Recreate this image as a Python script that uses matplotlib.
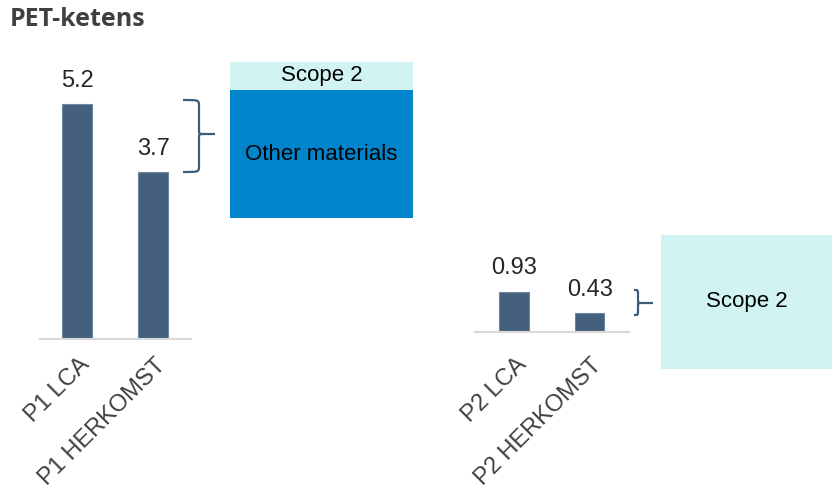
import matplotlib
matplotlib.use("Agg")
import matplotlib.pyplot as plt
from matplotlib.patches import Rectangle, PathPatch
from matplotlib.path import Path
from matplotlib.transforms import ScaledTranslation

plt.rcParams['font.family'] = ['Liberation Sans', 'DejaVu Sans']

# emissions per chain
p1_labels = ['P1 LCA', 'P1 HERKOMST']
p1_values = [5.2, 3.7]
p2_labels = ['P2 LCA', 'P2 HERKOMST']
p2_values = [0.93, 0.43]

W, H = 832, 491
BAR = '#44607d'
EDGE = '#6d86a2'
AXIS = '#d9d9d9'
BRACE = '#3d5c7c'
CYAN = '#d1f3f1'
BLUE = '#0085cc'

fig = plt.figure(figsize=(W / 100, H / 100), dpi=100)


def px_axes(x0, x1, ytop, ybase):
    # axes placed by pixel coords (origin top left)
    return fig.add_axes([x0 / W, (H - ybase) / H, (x1 - x0) / W, (ybase - ytop) / H])


def bar_panel(ax, labels, values, ymax, xlim, label_dy):
    xs = list(range(len(values)))
    ax.bar(xs, values, width=0.39, color=BAR, edgecolor=EDGE, linewidth=0.8)
    ax.set_xlim(*xlim)
    ax.set_ylim(0, ymax)
    for s in ['left', 'right', 'top']:
        ax.spines[s].set_visible(False)
    ax.spines['bottom'].set_color(AXIS)
    ax.spines['bottom'].set_linewidth(1.5)
    ax.set_xticks([])
    ax.set_yticks([])
    ax.patch.set_alpha(0)
    for x, v in zip(xs, values):
        ax.annotate(f'{v:g}', (x, v), xytext=(0, 12.5), textcoords='offset points',
                    ha='center', va='baseline', fontsize=17, color='#262626')
    for x, lab in zip(xs, labels):
        off = ScaledTranslation(1 / 100, -label_dy / 100, fig.dpi_scale_trans)
        ax.text(x, 0, lab, transform=ax.transData + off, rotation=45,
                rotation_mode='anchor', ha='right', va='top',
                fontsize=17, color='#404040')


ax1 = px_axes(40, 191, 68, 339)
bar_panel(ax1, p1_labels, p1_values, 6.0, (-0.49, 1.5), 15)

ax2 = px_axes(475, 629, 280, 332)
bar_panel(ax2, p2_labels, p2_values, 1.2, (-0.515, 1.52), 22)


def box(x0, y0, x1, y1, color, text):
    fig.patches.append(Rectangle((x0 / W, 1 - y1 / H), (x1 - x0) / W, (y1 - y0) / H,
                                 transform=fig.transFigure, facecolor=color,
                                 edgecolor='none'))
    fig.text((x0 + x1) / 2 / W, 1 - (y0 + y1) / 2 / H, text, ha='center',
             va='center', fontsize=16, color='black')


def brace(x0, xv, xt, y0, ym, y1, r):
    # right-facing curly brace with a short stem at the tip
    pts = [(x0, y0), (xv, y0), (xv, y0), (xv, y0 + r),
           (xv, ym - r), (xv, ym), (xv, ym), (xv + r * 0.6, ym),
           (xt, ym),
           (xv + r * 0.6, ym), (xv, ym), (xv, ym), (xv, ym + r),
           (xv, y1 - r), (xv, y1), (xv, y1), (x0, y1)]
    codes = [Path.MOVETO, Path.CURVE4, Path.CURVE4, Path.CURVE4,
             Path.LINETO, Path.CURVE4, Path.CURVE4, Path.CURVE4,
             Path.LINETO,
             Path.MOVETO, Path.CURVE4, Path.CURVE4, Path.CURVE4,
             Path.LINETO, Path.CURVE4, Path.CURVE4, Path.CURVE4]
    verts = [(x / W, 1 - y / H) for x, y in pts]
    fig.patches.append(PathPatch(Path(verts, codes), transform=fig.transFigure,
                                 facecolor='none', edgecolor=BRACE, linewidth=1.6))


box(230, 62, 413, 90, CYAN, 'Scope 2')
box(230, 90, 413, 218, BLUE, 'Other materials')
box(661, 235, 832, 369, CYAN, 'Scope 2')

brace(183, 199, 215, 100, 134, 172, 6)
brace(634, 638, 653, 290, 303, 315, 4)

fig.text(10 / W, 1 - 20 / H, 'PET-ketens', fontsize=18, fontweight='bold',
         family=['Open Sans', 'DejaVu Sans'], color='#404040', ha='left', va='center')

fig.savefig('out.png', dpi=100)
